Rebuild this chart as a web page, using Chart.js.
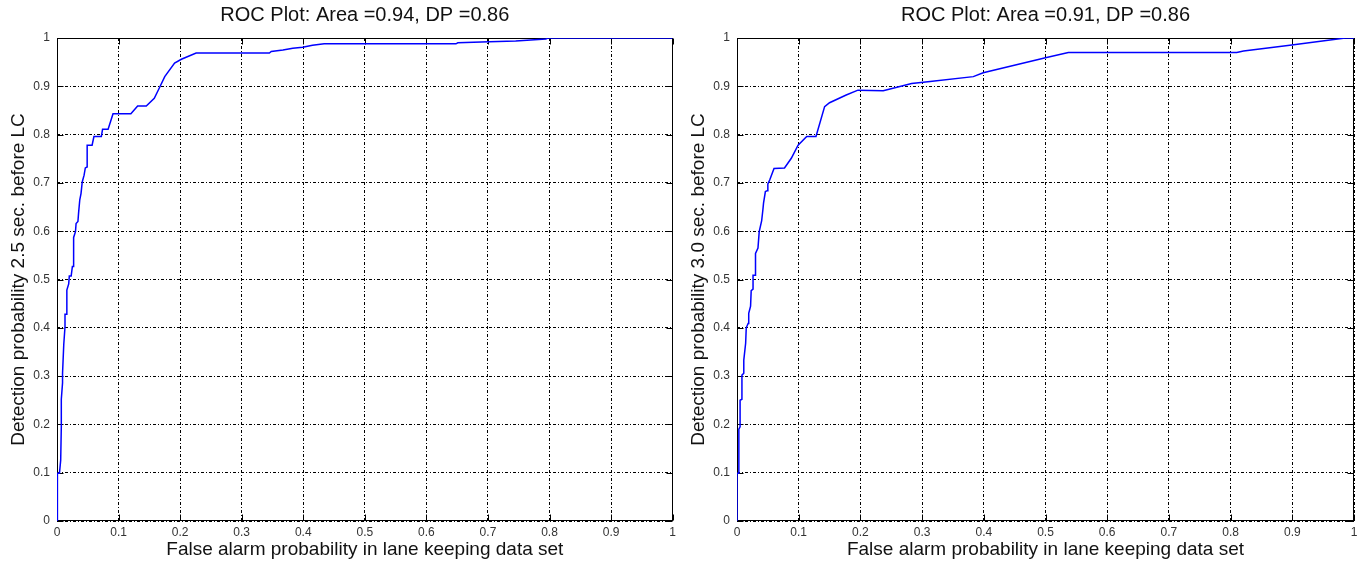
<!DOCTYPE html>
<html lang="en">
<head>
  <meta charset="utf-8">
  <title>ROC Plots</title>
  <script src="https://cdn.jsdelivr.net/npm/chart.js"></script>
  <style>
    html, body { margin: 0; padding: 0; background: #fff; }
    .wrap { position: relative; width: 1363px; height: 567px; }
    .box { position: absolute; top: 0; height: 567px; }
    #boxA { left: 0; width: 680px; }
    #boxB { left: 680px; width: 683px; }
  </style>
</head>
<body>
  <div class="wrap">
    <div class="box" id="boxA"><canvas id="rocA"></canvas></div>
    <div class="box" id="boxB"><canvas id="rocB"></canvas></div>
  </div>

  <script>
    // axis ticks (0 .. 1 step 0.1)
    const tickValues = [0, 0.1, 0.2, 0.3, 0.4, 0.5, 0.6, 0.7, 0.8, 0.9, 1];

    // left plot: 2.5 sec before LC
    const titleA = 'ROC Plot: Area =0.94, DP =0.86';
    const yLabelA = 'Detection probability 2.5 sec. before LC';
    const fprA = [0, 0, 0.001, 0.001, 0.004, 0.006, 0.007, 0.007, 0.009, 0.009, 0.011, 0.013, 0.013, 0.015,
      0.016, 0.019, 0.020, 0.023, 0.025, 0.027, 0.027, 0.030, 0.031, 0.034, 0.035, 0.037, 0.039, 0.041,
      0.044, 0.046, 0.049, 0.049, 0.057, 0.060, 0.072, 0.074, 0.083, 0.091, 0.120, 0.131, 0.145, 0.158,
      0.166, 0.175, 0.191, 0.202, 0.226, 0.345, 0.348, 0.367, 0.383, 0.399, 0.415, 0.434, 0.648, 0.651,
      0.702, 0.745, 0.794, 0.797, 1];
    const tprA = [0, 0.050, 0.050, 0.099, 0.099, 0.126, 0.195, 0.252, 0.286, 0.306, 0.366, 0.402, 0.428, 0.428,
      0.478, 0.491, 0.507, 0.507, 0.527, 0.527, 0.587, 0.599, 0.616, 0.620, 0.637, 0.665, 0.678, 0.702,
      0.716, 0.731, 0.733, 0.778, 0.778, 0.796, 0.796, 0.811, 0.811, 0.843, 0.843, 0.859, 0.859, 0.875,
      0.896, 0.920, 0.948, 0.956, 0.969, 0.969, 0.972, 0.975, 0.979, 0.981, 0.985, 0.988, 0.988, 0.990,
      0.992, 0.994, 0.998, 1, 1];

    // right plot: 3.0 sec before LC
    const titleB = 'ROC Plot: Area =0.91, DP =0.86';
    const yLabelB = 'Detection probability 3.0 sec. before LC';
    const fprB = [0, 0, 0, 0.003, 0.003, 0.005, 0.005, 0.008, 0.008, 0.011, 0.011, 0.014, 0.015, 0.018,
      0.019, 0.022, 0.023, 0.026, 0.026, 0.030, 0.030, 0.034, 0.036, 0.040, 0.042, 0.043, 0.046, 0.049,
      0.050, 0.053, 0.060, 0.077, 0.088, 0.099, 0.113, 0.128, 0.142, 0.150, 0.177, 0.196, 0.237, 0.283,
      0.313, 0.383, 0.399, 0.500, 0.537, 0.810, 0.821, 0.896, 0.986, 1];
    const tprB = [0, 0.033, 0.099, 0.099, 0.190, 0.195, 0.250, 0.252, 0.302, 0.306, 0.333, 0.368, 0.400, 0.409,
      0.430, 0.445, 0.477, 0.480, 0.509, 0.509, 0.554, 0.565, 0.599, 0.622, 0.645, 0.658, 0.682, 0.684,
      0.698, 0.706, 0.730, 0.731, 0.751, 0.778, 0.796, 0.796, 0.858, 0.866, 0.882, 0.892, 0.891, 0.906,
      0.910, 0.920, 0.928, 0.959, 0.970, 0.970, 0.973, 0.985, 1, 1];

    const xLabel = 'False alarm probability in lane keeping data set';
    const fontFamily = "'Liberation Sans', Arial, sans-serif";

    // box round the plot plus short inward ticks, as in matlab
    const framePlugin = {
      id: 'frame',
      beforeDatasetsDraw(chart) {
        const { ctx, chartArea: a, scales: { x, y } } = chart;
        const l = Math.round(a.left) + 0.5, r = Math.round(a.right) - 0.5;
        const t = Math.round(a.top) + 0.5, b = Math.round(a.bottom) - 0.5;
        ctx.save();
        ctx.strokeStyle = '#000';
        ctx.lineWidth = 1;
        ctx.strokeRect(l, t, r - l, b - t);
        ctx.beginPath();
        x.ticks.forEach(tk => {
          const px = Math.round(x.getPixelForValue(tk.value)) + 0.5;
          ctx.moveTo(px, b); ctx.lineTo(px, b - 6);
          ctx.moveTo(px, t); ctx.lineTo(px, t + 6);
        });
        y.ticks.forEach(tk => {
          const py = Math.round(y.getPixelForValue(tk.value)) + 0.5;
          ctx.moveTo(l, py); ctx.lineTo(l + 6, py);
          ctx.moveTo(r, py); ctx.lineTo(r - 6, py);
        });
        ctx.stroke();
        ctx.restore();
      }
    };

    function makeRoc(canvasId, title, yLabel, fpr, tpr, rightPad) {
      const points = fpr.map((v, i) => ({ x: v, y: tpr[i] }));
      const axisBase = {
        type: 'linear',
        min: 0,
        max: 1,
        grid: { color: '#000', lineWidth: 1, drawTicks: false },
        border: { display: false, dash: [3, 2, 1, 2] },
        ticks: {
          stepSize: 0.1,
          autoSkip: false,
          color: '#333',
          font: { family: fontFamily, size: 12 },
          callback: v => tickValues.includes(+v.toFixed(1)) ? String(+v.toFixed(1)) : ''
        }
      };
      return new Chart(document.getElementById(canvasId), {
        type: 'scatter',
        data: {
          datasets: [{
            data: points,
            showLine: true,
            borderColor: '#0000ff',
            borderWidth: 1.5,
            pointRadius: 0,
            tension: 0
          }]
        },
        options: {
          responsive: true,
          maintainAspectRatio: false,
          animation: false,
          layout: { padding: { left: 0, right: rightPad, top: 0, bottom: 0 } },
          plugins: {
            legend: { display: false },
            tooltip: { enabled: false },
            title: {
              display: true,
              fullSize: false,
              text: title,
              color: '#111',
              font: { family: fontFamily, size: 20, weight: 'normal' },
              padding: { top: 3, bottom: 11 }
            }
          },
          scales: {
            x: {
              ...axisBase,
              ticks: { ...axisBase.ticks, padding: 4, maxRotation: 0 },
              title: {
                display: true,
                text: xLabel,
                color: '#111',
                font: { family: fontFamily, size: 19 },
                padding: { top: 0, bottom: 6 }
              },
              afterFit: s => { s.height = 46; }
            },
            y: {
              ...axisBase,
              ticks: { ...axisBase.ticks, padding: 7 },
              title: {
                display: true,
                text: yLabel,
                color: '#111',
                font: { family: fontFamily, size: 19 },
                padding: { top: 7, bottom: 0 }
              },
              afterFit: s => { s.width = 57; }
            }
          }
        },
        plugins: [framePlugin]
      });
    }

    makeRoc('rocA', titleA, yLabelA, fprA, tprA, 7);
    makeRoc('rocB', titleB, yLabelB, fprB, tprB, 9);
  </script>
</body>
</html>
